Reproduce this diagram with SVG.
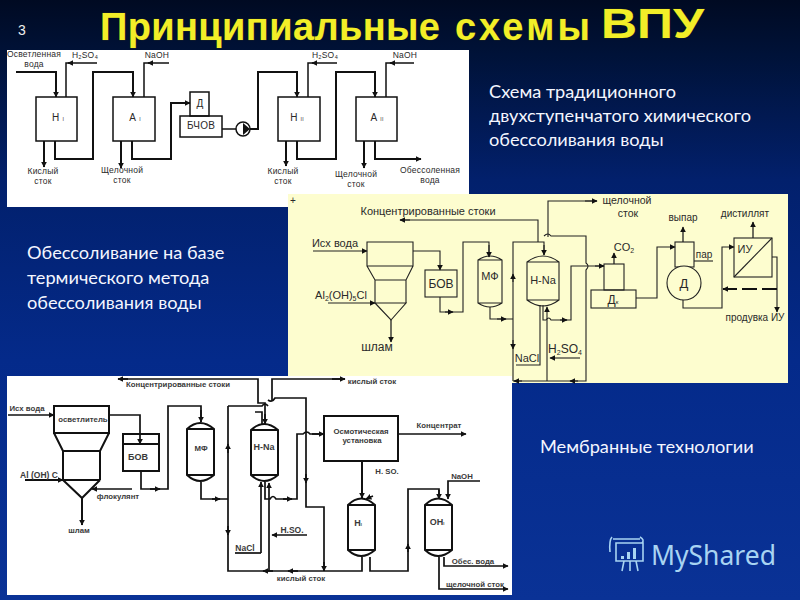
<svg xmlns="http://www.w3.org/2000/svg" width="800" height="600" viewBox="0 0 800 600">
<defs>
<linearGradient id="bg" x1="0" y1="0" x2="0" y2="1"><stop offset="0" stop-color="#000a22"/><stop offset="0.09" stop-color="#001238"/><stop offset="0.3" stop-color="#02206c"/><stop offset="0.6" stop-color="#042a8a"/><stop offset="1" stop-color="#0a3296"/></linearGradient>
<marker id="a" viewBox="0 0 10 10" refX="9" refY="5" markerWidth="6" markerHeight="6" markerUnits="userSpaceOnUse" orient="auto"><path d="M0 0L10 5L0 10Z" fill="#111"/></marker>
</defs>
<style>
text{font-family:"Liberation Sans",Arial,sans-serif;fill:#2a2a2a}
.s{fill:none;stroke:#111;stroke-width:1.5}
.k{fill:none;stroke:#111;stroke-width:2}
.t{fill:none;stroke:#222;stroke-width:1.1}
.n{fill:none;stroke:#222;stroke-width:1.3}
.h{fill:none;stroke:#111;stroke-width:1.7}
.ar{marker-end:url(#a)}
.p1{font-size:8.5px;text-anchor:middle;letter-spacing:.2px}
.p2{font-size:11px;text-anchor:middle}
.p3{font-size:7.8px;text-anchor:middle;font-weight:bold;fill:#3a3a3a}
.w{font-family:Lato,"Open Sans",sans-serif;font-size:18.2px;fill:#f4f6ff}
.ttl{font-weight:bold;fill:#f2ee28;stroke:#3a3a10;stroke-width:.5;paint-order:stroke}
.lg{fill:none;stroke:#a8d4f2;stroke-width:1.6}
</style>
<rect width="800" height="600" fill="url(#bg)"/>

<g id="title">
<text x="18" y="35" style="font-size:14px;fill:#eee">3</text>
<text class="ttl" x="100" y="39.5" textLength="340" lengthAdjust="spacing" style="font-size:38px">Принципиальные</text>
<text class="ttl" x="455" y="39.5" textLength="135" lengthAdjust="spacing" style="font-size:38px">схемы</text>
<text class="ttl" x="601" y="38" textLength="103" lengthAdjust="spacingAndGlyphs" style="font-size:43px">ВПУ</text>
</g>

<rect id="panel1" x="7" y="50" width="462" height="157" fill="#fff"/>
<rect id="panel2" x="288" y="194" width="500" height="189" fill="#fdfdcf"/>
<rect id="panel3" x="7" y="376" width="505" height="219" fill="#fff"/>

<g id="captions">
<text class="w" x="489" y="98">Схема традиционного</text>
<text class="w" x="489" y="122">двухступенчатого химического</text>
<text class="w" x="489" y="146">обессоливания воды</text>
<text class="w" x="27" y="259">Обессоливание на базе</text>
<text class="w" x="27" y="284">термического метода</text>
<text class="w" x="27" y="309">обессоливания воды</text>
<text class="w" x="540" y="453">Мембранные технологии</text>
</g>

<g id="connectors1">
<path class="k ar" d="M16 72H56V97"/>
<path class="s" d="M97 63H66V97"/><path class="s ar" d="M72 63H68"/>
<path class="k" d="M55 141V159H93V72H133V97"/><path class="k ar" d="M133 80V97"/>
<path class="k ar" d="M44 141V167"/>
<path class="s" d="M169 63H144V97"/><path class="s ar" d="M152 63H148"/>
<path class="k ar" d="M132 141V159H171V103H190"/>
<path class="k ar" d="M121 141V168"/>
<path class="s" d="M222 129H236"/>
<path class="k ar" d="M250 129H258V72H297V97"/>
<path class="s" d="M337 63H308V97"/><path class="s ar" d="M316 63H312"/>
<path class="k ar" d="M297 141V159H336V72H375V97"/>
<path class="k ar" d="M286 141V166"/>
<path class="s" d="M414 63H386V97"/><path class="s ar" d="M394 63H390"/>
<path class="k ar" d="M375 141V159H421"/>
<path class="k ar" d="M364 141V168"/>
</g>
<g id="node-h1"><rect class="s" x="36" y="97" width="41" height="44"/><text class="p1" x="58" y="121" style="font-size:10px">Н <tspan font-size="5">I</tspan></text></g>
<g id="node-a1"><rect class="s" x="113" y="97" width="42" height="44"/><text class="p1" x="135" y="121" style="font-size:10px">А <tspan font-size="5">I</tspan></text></g>
<g id="node-d"><rect class="s" x="190" y="92" width="19" height="24"/><text class="p1" x="200" y="107" style="font-size:10px">Д</text></g>
<g id="node-bchov"><rect class="s" x="180" y="116" width="42" height="21"/><text class="p1" x="201" y="129" style="font-size:10px">БЧОВ</text></g>
<g id="node-pump"><circle class="s" cx="243" cy="129" r="7"/><path d="M243 123L250 129L243 135Z" fill="#111"/></g>
<g id="node-h2"><rect class="s" x="278" y="97" width="42" height="44"/><text class="p1" x="297" y="121" style="font-size:10px">Н <tspan font-size="5">II</tspan></text></g>
<g id="node-a2"><rect class="s" x="356" y="97" width="41" height="44"/><text class="p1" x="377" y="121" style="font-size:10px">А <tspan font-size="5">II</tspan></text></g>
<g id="labels1">
<text class="p1" x="34" y="57">Осветленная</text><text class="p1" x="34" y="67">вода</text>
<text class="p1" x="85" y="58">H₂SO₄</text><text class="p1" x="157" y="58">NaOH</text>
<text class="p1" x="43" y="174">Кислый</text><text class="p1" x="43" y="184">сток</text>
<text class="p1" x="122" y="173">Щелочной</text><text class="p1" x="122" y="183">сток</text>
<text class="p1" x="325" y="58">H₂SO₄</text><text class="p1" x="405" y="58">NaOH</text>
<text class="p1" x="283" y="174">Кислый</text><text class="p1" x="283" y="184">сток</text>
<text class="p1" x="356" y="177">Щелочной</text><text class="p1" x="356" y="187">сток</text>
<text class="p1" x="430" y="173">Обессоленная</text><text class="p1" x="430" y="183">вода</text>
</g>

<g id="connectors2">
<path class="t ar" d="M313 251H367"/>
<path class="t ar" d="M328 303H375"/>
<path class="n ar" d="M391 320V342"/>
<path class="t ar" d="M413 251H440V270"/>
<path class="t" d="M440 297V312H463V242H489V257"/><path class="t ar" d="M489 245V257"/><path class="t ar" d="M445 312H453"/>
<path class="t" d="M490 307V319H513"/><path class="t ar" d="M497 319H506"/>
<path class="t" d="M513 381V242H544V255"/><path class="t ar" d="M513 282V274"/><path class="t ar" d="M513 340V349"/><path class="t ar" d="M544 245V255"/>
<path class="t" d="M538 242V220H400"/><path class="t ar" d="M410 220H400"/>
<path class="t" d="M548 237V201H597"/><path class="t ar" d="M585 201H597"/>
<path class="t" d="M544 236Q548 232 551 236H586V263Q590 266 586 270V381H513"/>
<path class="t ar" d="M578 381H570"/><path class="t ar" d="M522 381H514"/>
<path class="t" d="M543 305V320H546Q549 316 551 320H571V266H604"/><path class="t ar" d="M560 320H567"/><path class="t ar" d="M595 266H604"/>
<path class="t" d="M540 305V365H516"/>
<path class="t ar" d="M547 381V307"/>
<path class="t ar" d="M580 358H550"/>
<path class="n ar" d="M614 264V253"/>
<path class="t ar" d="M636 298H657V247H675"/>
<path class="n ar" d="M683 242V227"/>
<path class="t" d="M713 261H694"/>
<path class="t ar" d="M683 299V308H722V247H734"/>
<path class="n ar" d="M753 238V222"/>
<path class="t ar" d="M772 257H777V312"/>
<path d="M777 289H723" stroke="#111" stroke-width="2.2" stroke-dasharray="15 5" fill="none" class="ar"/>
</g>
<g id="node-clarifier2"><path class="t" d="M367 242H413V266H367ZM367 266L375 280H406L413 266M375 280V303H406V280M375 303L391 320L406 303Z"/></g>
<g id="node-bov2"><rect class="t" x="425" y="270" width="32" height="27"/><text class="p2" x="441" y="288" style="font-size:12px">БОВ</text></g>
<g id="node-mf2"><path class="t" d="M478 260Q490 252 502 260V303Q490 311 478 303ZM478 260H502M478 303H502"/><text class="p2" x="490" y="280" style="font-size:11px">МФ</text></g>
<g id="node-hna2"><path class="t" d="M527 262Q543 250 559 262V300Q543 312 527 300ZM527 262H559M527 300H559"/><text class="p2" x="543" y="284" style="font-size:11px">Н-Na</text></g>
<g id="node-dk"><rect class="t" x="604" y="264" width="20" height="26"/><rect class="t" x="591" y="290" width="45" height="18"/><text class="p2" x="613" y="304" style="font-size:12px">Д<tspan font-size="6">к</tspan></text></g>
<g id="node-d2"><rect class="t" x="675" y="242" width="19" height="25"/><circle cx="684" cy="283" r="17" class="t" style="fill:#fdfdcf"/><text class="p2" x="684" y="288" style="font-size:13px">Д</text></g>
<g id="node-iu"><rect class="t" x="734" y="238" width="38" height="39"/><path class="t" d="M734 277L772 238"/><text class="p2" x="745" y="253" style="font-size:11px">ИУ</text></g>
<g id="labels2">
<text x="290" y="204" style="font-size:10px">+</text>
<text class="p2" x="428" y="215">Концентрированные стоки</text>
<text class="p2" x="335" y="247">Исх вода</text>
<text class="p2" x="341" y="299">Al<tspan font-size="7" dy="2">2</tspan><tspan dy="-2">(OH)</tspan><tspan font-size="7" dy="2">5</tspan><tspan dy="-2">Cl</tspan></text>
<text class="p2" x="377" y="351" style="font-size:12px">шлам</text>
<text class="p2" x="527" y="362" style="font-size:11px">NaCl</text>
<text class="p2" x="565" y="353" style="font-size:12px">H<tspan font-size="7" dy="2">2</tspan><tspan dy="-2">SO</tspan><tspan font-size="7" dy="2">4</tspan></text>
<text class="p2" x="627" y="204" style="font-size:10.5px">щелочной</text><text class="p2" x="628" y="217" style="font-size:10.5px">сток</text>
<text class="p2" x="624" y="251" style="font-size:11px">CO<tspan font-size="7" dy="2">2</tspan></text>
<text class="p2" x="683" y="221" style="font-size:10px">выпар</text>
<text class="p2" x="704" y="258" style="font-size:10px">пар</text>
<text class="p2" x="745" y="217" style="font-size:10px">дистиллят</text>
<text class="p2" x="755" y="321" style="font-size:10px">продувка ИУ</text>
</g>

<g id="connectors3">
<path class="h ar" d="M8 415H54"/>
<path class="k" d="M25 480H100"/><path class="h ar" d="M54 480H63"/>
<path class="h ar" d="M132 489H92"/>
<path class="k ar" d="M82 498V525"/>
<path class="h ar" d="M109 415H140V444"/>
<path class="h" d="M141 471V489H168V406H201V422"/><path class="h ar" d="M150 489H160"/><path class="h ar" d="M201 410V422"/>
<path class="h" d="M201 482V499H228"/><path class="h ar" d="M212 499H220"/>
<path class="h" d="M228 406V571H269"/><path class="h ar" d="M228 453V444"/><path class="h ar" d="M228 526V535"/>
<path class="h" d="M228 406H262Q265 402 268 406"/>
<path class="h" d="M118 379H258V403H265V424"/><path class="h ar" d="M128 379H118"/><path class="h ar" d="M265 414V424"/>
<path class="h" d="M255 412H262V424"/>
<path class="h" d="M272 401V379H345"/><path class="h ar" d="M332 379H345"/>
<path class="h" d="M268 400Q272 403 275 398H306V507H324V571"/><path class="h ar" d="M306 474V483"/><path class="h ar" d="M324 562V571"/>
<path class="h" d="M265 482V499H270Q273 494 276 499H297V434H303Q307 430 310 434H324"/><path class="h ar" d="M283 499H292"/><path class="h ar" d="M312 434H324"/>
<path class="h ar" d="M261 553V482"/><path class="h" d="M235 553H261"/>
<path class="h ar" d="M269 571V483"/>
<path class="h ar" d="M307 535H272"/>
<path class="h" d="M269 571H362V557"/><path class="h ar" d="M298 571H288"/><path class="h ar" d="M273 571H263"/>
<path class="h" d="M370 557V571H408V489H439V499"/><path class="h ar" d="M408 552V544"/><path class="h ar" d="M439 490V499"/>
<path class="k ar" d="M362 461V498"/><path class="h ar" d="M373 496L366 499"/>
<path class="h ar" d="M398 434H466"/>
<path class="h ar" d="M480 481H448V499"/>
<path class="h ar" d="M444 557V566H508"/>
<path class="h ar" d="M439 557V589H508"/>
</g>
<g id="node-clarifier3"><path class="k" d="M54 406H109V433H54ZM54 433L63 451H100L109 433M63 451V480M100 451V480M63 480L82 498L100 480"/><text class="p3" x="83" y="422">осветлитель</text></g>
<g id="node-bov3"><rect class="k" x="123" y="434" width="36" height="37"/><path class="k" d="M123 444H159"/><text class="p3" x="138" y="460" style="font-size:9px">БОВ</text></g>
<g id="node-mf3"><path class="k" d="M187 429Q200 417 214 429V475Q200 487 187 475ZM187 429H214M187 475H214"/><text class="p3" x="201" y="451">МФ</text></g>
<g id="node-hna3"><path class="k" d="M251 430Q264 418 278 430V475Q264 487 251 475ZM251 430H278M251 475H278"/><text class="p3" x="264" y="450" style="font-size:9px">H-Na</text></g>
<g id="node-osmos"><rect class="k" x="324" y="416" width="74" height="45"/><text class="p3" x="361" y="434">Осмотическая</text><text class="p3" x="362" y="443">установка</text></g>
<g id="node-h3"><path class="k" d="M348 505Q361 492 375 505V550Q361 562 348 550ZM348 505H375M348 550H375"/><text class="p3" x="358" y="526" style="font-size:9px">H<tspan font-size="4">I</tspan></text></g>
<g id="node-oh3"><path class="k" d="M425 505Q438 492 452 505V550Q438 562 425 550ZM425 505H452M425 550H452"/><text class="p3" x="437" y="525" style="font-size:9px">OH<tspan font-size="4">I</tspan></text></g>
<g id="labels3">
<text class="p3" x="178" y="387">Концентрированные стоки</text>
<text class="p3" x="372" y="384">кислый сток</text>
<text class="p3" x="27" y="411">Исх вода</text>
<text class="p3" x="39" y="478" style="font-size:8.5px">Al (OH) C</text>
<text class="p3" x="118" y="499">флокулянт</text>
<text class="p3" x="79" y="533">шлам</text>
<text class="p3" x="245" y="551" style="font-size:8.5px">NaCl</text>
<text class="p3" x="301" y="581">кислый сток</text>
<text class="p3" x="292" y="533" style="font-size:8.5px">H.SO.</text>
<text class="p3" x="387" y="474">H. SO.</text>
<text class="p3" x="439" y="428">Концентрат</text>
<text class="p3" x="462" y="479">NaOH</text>
<text class="p3" x="473" y="564">Обес. вода</text>
<text class="p3" x="475" y="587">щелочной сток</text>
</g>

<g id="logo">
<path class="lg" d="M613 539H640M616 543H643V561H616ZM612 537Q609 540 610 552M640 537Q645 540 642 543M624 561L622 571M630 561V571M636 561L638 571"/>
<path d="M621 556h3v3h-3zM627 552h3v7h-3zM633 548h3v11h-3z" fill="#a8d4f2"/>
<text x="651" y="565" style="font-family:'Noto Sans','Open Sans',sans-serif;font-size:26.5px;fill:#a8d4f2">MyShared</text>
</g>
</svg>
